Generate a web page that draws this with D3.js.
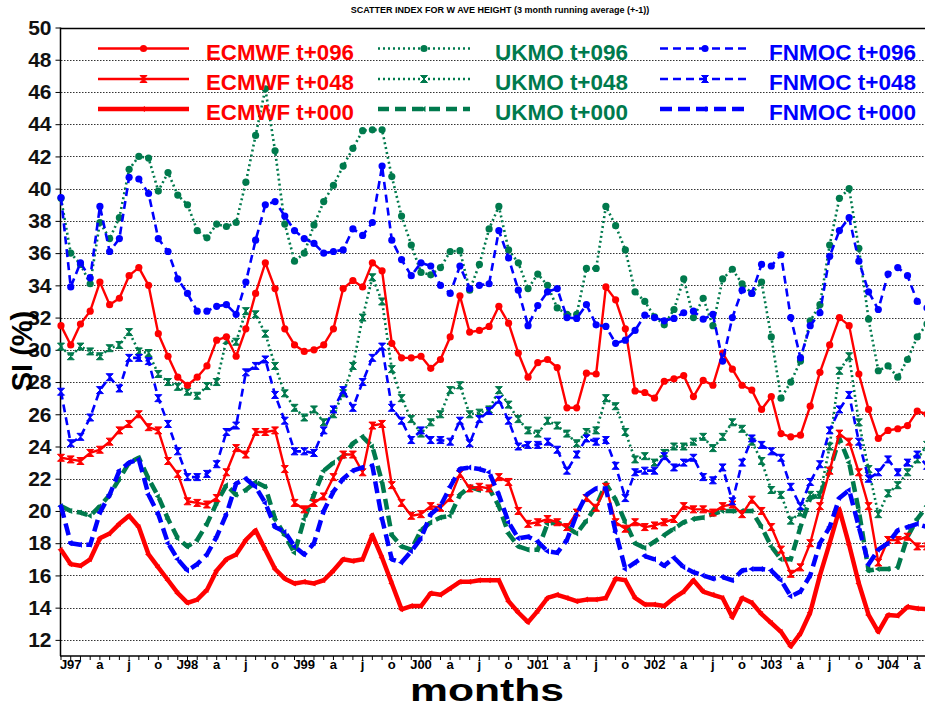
<!DOCTYPE html>
<html>
<head>
<meta charset="utf-8">
<script src="https://cdn.jsdelivr.net/npm/d3@7"></script>
<style>
    body { margin: 0; background: #fff; }
    svg { display: block; font-family: "Liberation Sans", Arial, sans-serif; }
</style>
</head>
<body>
<div id="chart"></div>
<script>
// set global variables
const width = 925;
const height = 708;
const plotLeft = 61;
const plotTop = 27.5;
const plotBottom = 656;
const monthStep = 9.73;

// month tick labels (one every 3 months, starting Jan 97)
const monthLabels = ["J97", "a", "j", "o", "J98", "a", "j", "o", "J99", "a", "j", "o",
    "J00", "a", "j", "o", "J01", "a", "j", "o", "J02", "a", "j", "o",
    "J03", "a", "j", "o", "J04", "a"];
const yTicks = [12, 14, 16, 18, 20, 22, 24, 26, 28, 30, 32, 34, 36, 38, 40, 42, 44, 46, 48, 50];

// monthly values, Dec 96 .. May 04
const ecmwf096 = [31.5, 30.3, 31.6, 32.4, 34.2, 32.8, 33.2, 34.6, 35.1, 34.0,
    31.0, 29.6, 28.3, 27.8, 28.3, 29.0, 30.6, 30.8, 29.6, 31.3,
    33.5, 35.4, 33.8, 31.3, 30.3, 29.9, 30.0, 30.3, 31.3, 33.8,
    34.3, 33.9, 35.4, 34.9, 30.4, 29.5, 29.5, 29.6, 28.85, 29.4,
    30.8, 33.35, 31.1, 31.2, 31.45, 32.7, 31.65, 29.8, 28.3, 29.2,
    29.4, 28.9, 26.4, 26.4, 28.55, 28.5, 33.9, 33.1, 31.3, 27.45,
    27.35, 27.0, 28.05, 28.2, 28.4, 27.1, 28.1, 27.8, 29.8, 28.8,
    27.8, 27.5, 26.3, 27.1, 24.8, 24.6, 24.7, 26.5, 28.6, 30.3,
    32.0, 31.5, 28.5, 26.3, 24.5, 25.0, 25.1, 25.3, 26.2, 26.0];
const ecmwf048 = [23.3, 23.2, 23.1, 23.6, 23.8, 24.3, 25.0, 25.4, 26.0, 25.2,
    25.0, 23.1, 22.3, 20.6, 20.5, 20.4, 20.8, 22.4, 23.9, 23.5,
    24.9, 24.9, 25.0, 22.6, 20.5, 20.1, 20.5, 20.9, 22.1, 23.5,
    23.5, 22.4, 25.3, 25.4, 21.6, 20.5, 19.7, 19.8, 20.3, 20.2,
    20.8, 22.3, 21.4, 21.5, 21.4, 22.1, 21.8, 20.0, 19.2, 19.3,
    19.5, 19.3, 19.0, 19.9, 20.8, 20.2, 21.5, 19.3, 18.9, 19.3,
    19.0, 19.1, 19.3, 19.5, 20.3, 20.1, 20.1, 19.9, 20.3, 20.4,
    19.8, 20.7, 20.0, 19.0, 17.6, 16.1, 16.5, 18.0, 20.3, 22.5,
    24.8, 24.3, 22.4, 20.3, 16.8, 18.2, 18.2, 18.4, 17.8, 17.8];
const ecmwf000 = [17.6, 16.7, 16.6, 17.0, 18.3, 18.6, 19.2, 19.7, 19.0, 17.3,
    16.5, 15.7, 14.9, 14.3, 14.5, 15.1, 16.3, 17.0, 17.3, 18.2,
    18.8, 17.6, 16.4, 15.8, 15.5, 15.6, 15.5, 15.7, 16.3, 17.0,
    16.9, 17.0, 18.5, 17.1, 15.5, 13.9, 14.1, 14.1, 14.9, 14.8,
    15.2, 15.6, 15.6, 15.7, 15.7, 15.7, 14.4, 13.7, 13.1, 13.8,
    14.6, 14.8, 14.6, 14.4, 14.5, 14.5, 14.6, 15.8, 15.7, 14.6,
    14.2, 14.2, 14.1, 14.6, 15.0, 15.7, 15.0, 14.8, 14.6, 13.4,
    14.6, 14.3, 13.6, 13.05, 12.5, 11.6, 12.4, 13.7, 16.0, 18.0,
    20.1, 17.9, 15.5, 13.55, 12.5, 13.55, 13.5, 14.05, 13.95, 13.9];
const ukmo096 = [39.4, 36.0, 35.3, 34.1, 37.9, 36.9, 38.2, 41.2, 42.0, 41.9,
    39.85, 41.0, 39.6, 39.0, 37.4, 36.95, 37.8, 37.65, 37.9, 40.4,
    43.3, 46.2, 42.35, 37.8, 35.5, 36.0, 37.75, 39.2, 40.2, 41.4,
    42.5, 43.6, 43.65, 43.65, 40.75, 38.3, 36.5, 34.8, 34.65, 35.1,
    36.1, 36.15, 33.7, 35.3, 37.5, 38.9, 36.2, 35.4, 33.8, 34.7,
    34.0, 32.6, 32.2, 32.2, 35.05, 35.05, 38.9, 37.7, 36.2, 33.6,
    33.0, 32.05, 31.55, 32.5, 34.4, 32.0, 33.2, 31.5, 34.4, 35.0,
    34.1, 33.5, 34.2, 30.8, 27.0, 28.0, 29.3, 31.8, 32.8, 36.5,
    39.4, 40.0, 36.3, 31.9, 28.7, 29.0, 28.3, 29.4, 30.8, 31.6];
const ukmo048 = [30.2, 29.6, 30.2, 29.9, 29.6, 30.1, 30.3, 31.1, 29.9, 29.8,
    28.5, 28.0, 27.7, 27.4, 27.15, 27.75, 28.0, 30.6, 30.5, 32.4,
    32.2, 31.0, 29.0, 27.3, 26.4, 25.8, 26.3, 25.5, 26.0, 27.3,
    29.0, 32.0, 34.5, 33.0, 28.8, 27.0, 25.7, 24.8, 25.5, 26.0,
    27.5, 27.8, 26.0, 26.1, 26.3, 27.5, 26.6, 25.7, 25.0, 24.8,
    25.6, 25.3, 24.8, 24.2, 24.9, 25.0, 27.0, 26.5, 24.9, 23.2,
    23.4, 23.0, 23.6, 24.0, 24.0, 24.3, 24.6, 23.9, 24.6, 25.5,
    25.1, 24.3, 23.1, 21.3, 21.0, 19.4, 19.9, 21.0, 21.0, 24.0,
    28.7, 29.6, 25.5, 22.6, 19.8, 21.1, 21.6, 22.4, 23.2, 24.1];
const ukmo000 = [20.3, 20.0, 19.9, 19.7, 20.3, 21.0, 22.0, 23.0, 23.3, 22.0,
    20.9, 19.5, 18.3, 17.8, 18.2, 19.2, 20.5, 21.6, 21.0, 21.3,
    21.8, 21.5, 19.5, 18.5, 17.4, 19.5, 21.0, 22.5, 23.0, 23.4,
    24.2, 24.6, 24.0, 21.8, 18.5, 17.8, 17.6, 18.8, 19.3, 19.6,
    19.7, 21.0, 21.5, 21.3, 21.4, 20.3, 18.6, 17.8, 17.6, 17.6,
    19.2, 19.3, 19.0, 18.6, 19.4, 20.3, 21.7, 20.7, 19.3, 18.0,
    17.7, 18.1, 18.5, 18.9, 19.3, 19.5, 19.6, 19.8, 20.0, 20.0,
    20.0, 20.0, 19.0, 17.8, 17.0, 17.0, 19.0, 20.8, 21.0, 22.5,
    24.5, 23.0, 20.0, 16.3, 16.4, 16.4, 16.5, 18.4, 19.5, 20.3];
const fnmoc096 = [39.45, 33.9, 35.4, 34.45, 38.9, 36.1, 36.9, 40.7, 40.6, 39.7,
    36.9, 36.1, 34.4, 33.5, 32.4, 32.4, 32.7, 32.8, 32.2, 34.2,
    36.8, 39.0, 39.2, 38.3, 37.4, 36.9, 36.6, 36.0, 36.1, 36.2,
    37.5, 37.1, 37.9, 41.4, 36.8, 35.6, 34.6, 35.4, 35.2, 34.0,
    33.5, 35.2, 33.8, 34.0, 34.1, 37.4, 35.7, 33.7, 31.5, 32.75,
    33.6, 33.8, 32.0, 31.95, 32.8, 31.55, 31.45, 30.4, 30.6, 31.2,
    32.15, 32.0, 31.8, 31.95, 32.3, 32.4, 31.9, 32.2, 29.3, 32.0,
    33.7, 33.5, 35.3, 35.2, 35.9, 32.0, 29.5, 31.5, 32.3, 35.8,
    37.4, 38.2, 35.5, 33.6, 32.5, 34.7, 35.1, 34.6, 33.0, 32.6];
const fnmoc048 = [27.4, 24.2, 24.6, 25.8, 27.5, 28.3, 27.6, 29.5, 29.5, 29.3,
    27.0, 25.4, 23.7, 22.1, 22.1, 22.3, 22.9, 24.9, 25.3, 28.6,
    29.0, 29.4, 27.2, 25.6, 23.7, 23.7, 23.6, 25.0, 26.3, 27.5,
    26.4, 28.0, 29.5, 30.2, 26.4, 25.6, 24.4, 25.0, 24.4, 24.4,
    24.3, 25.6, 24.2, 25.7, 26.2, 26.9, 25.6, 24.0, 24.1, 24.1,
    24.3, 23.8, 22.5, 23.5, 24.5, 24.3, 24.4, 22.8, 20.8, 22.4,
    22.5, 22.5, 23.4, 22.7, 23.0, 23.3, 22.1, 21.9, 22.7, 20.6,
    23.0, 24.5, 24.1, 23.7, 23.3, 21.5, 20.3, 21.8, 22.9, 25.0,
    26.3, 27.2, 24.3, 22.0, 22.4, 23.2, 22.4, 23.0, 23.5, 22.8];
const fnmoc000 = [20.3, 18.0, 17.9, 17.9, 19.9, 21.0, 22.5, 23.0, 23.2, 21.0,
    19.8, 18.0, 17.0, 16.3, 16.7, 17.3, 18.4, 19.8, 21.7, 22.0,
    21.5, 20.5, 19.0, 18.7, 17.8, 17.3, 18.0, 20.0, 21.2, 22.0,
    22.5, 22.7, 22.8, 19.5, 17.0, 16.8, 17.5, 18.3, 19.8, 20.3,
    21.5, 22.6, 22.7, 22.6, 22.4, 21.0, 19.3, 18.3, 18.4, 18.1,
    17.5, 17.4, 18.2, 19.8, 21.0, 21.4, 21.4, 18.7, 16.4, 16.8,
    17.2, 17.0, 16.6, 17.1, 16.5, 16.2, 16.0, 15.8, 15.9, 15.7,
    16.3, 16.4, 16.4, 16.3, 15.7, 14.7, 15.0, 16.0, 18.0, 19.0,
    20.8, 21.3, 19.0, 16.7, 17.6, 18.0, 18.8, 19.0, 19.2, 19.0];

const red = "#ff0000";
const green = "#007a4d";
const blue = "#0000ff";

// series table (draw order: green, red, blue)
const series = [
    { name: "UKMO t+096", values: ukmo096, color: green, w: 2.6, dash: "2,3", marker: "circle", col: 1, row: 0 },
    { name: "UKMO t+048", values: ukmo048, color: green, w: 2.6, dash: "2,3", marker: "hour", col: 1, row: 1 },
    { name: "UKMO t+000", values: ukmo000, color: green, w: 4.5, dash: "11,6", marker: "arrow", col: 1, row: 2 },
    { name: "ECMWF t+096", values: ecmwf096, color: red, w: 2.4, dash: null, marker: "circle", col: 0, row: 0 },
    { name: "ECMWF t+048", values: ecmwf048, color: red, w: 2.4, dash: null, marker: "hour", col: 0, row: 1 },
    { name: "ECMWF t+000", values: ecmwf000, color: red, w: 4.5, dash: null, marker: "arrow", col: 0, row: 2 },
    { name: "FNMOC t+096", values: fnmoc096, color: blue, w: 2.6, dash: "8,5", marker: "circle", col: 2, row: 0 },
    { name: "FNMOC t+048", values: fnmoc048, color: blue, w: 2.6, dash: "8,5", marker: "hour", col: 2, row: 1 },
    { name: "FNMOC t+000", values: fnmoc000, color: blue, w: 4.5, dash: "12,6", marker: "arrow", col: 2, row: 2 }
];

// first make svg
var svg = d3.select("#chart")
    .append("svg")
    .attr("width", width)
    .attr("height", height);

// create scales
var xScale = d3.scaleLinear()
    .domain([0, 89])
    .range([plotLeft, plotLeft + 89 * monthStep]);

var yScale = d3.scaleLinear()
    .domain([11, 50])
    .range([plotBottom, plotTop]);

// title
svg.append("text")
    .attr("x", 500)
    .attr("y", 13)
    .attr("text-anchor", "middle")
    .style("font-size", "9px")
    .style("font-weight", "bold")
    .text("SCATTER INDEX  FOR W AVE HEIGHT (3 month running average (+-1))");

/////////////////////////
// grid and axes       //
/////////////////////////

svg.append("g")
    .selectAll("line")
    .data(yTicks.filter(d => d < 50))
    .enter()
    .append("line")
    .attr("x1", plotLeft)
    .attr("x2", width)
    .attr("y1", d => Math.round(yScale(d)) + 0.5)
    .attr("y2", d => Math.round(yScale(d)) + 0.5)
    .attr("stroke", "#333")
    .attr("stroke-width", 1)
    .attr("stroke-dasharray", "1.5,1.5");

// top frame line
svg.append("line")
    .attr("x1", plotLeft).attr("x2", width)
    .attr("y1", Math.round(yScale(50)) + 0.5).attr("y2", Math.round(yScale(50)) + 0.5)
    .attr("stroke", "#000").attr("stroke-width", 1.5);

var yAxis = d3.axisLeft(yScale)
    .tickValues(yTicks)
    .tickSize(5)
    .tickPadding(4);

var yG = svg.append("g")
    .attr("transform", "translate(" + (plotLeft - 0.5) + ",0)")
    .call(yAxis);
yG.select(".domain").attr("d", "M0," + plotTop + "V" + plotBottom).attr("stroke-width", 1.5);
yG.selectAll("text")
    .style("font-size", "21px")
    .style("font-weight", "bold")
    .attr("fill", "#111");

// x axis: monthly minor ticks, labels every quarter
var xG = svg.append("g");
xG.append("line")
    .attr("x1", plotLeft - 1).attr("x2", width)
    .attr("y1", plotBottom).attr("y2", plotBottom)
    .attr("stroke", "#000").attr("stroke-width", 1.5);

xG.selectAll(".mtick")
    .data(d3.range(0, 90))
    .enter()
    .append("line")
    .attr("class", "mtick")
    .attr("x1", d => xScale(d)).attr("x2", d => xScale(d))
    .attr("y1", plotBottom).attr("y2", plotBottom + 4)
    .attr("stroke", "#000").attr("stroke-width", 1);

xG.selectAll(".mlabel")
    .data(monthLabels)
    .enter()
    .append("text")
    .attr("class", "mlabel")
    .attr("x", (d, i) => xScale(1 + i * 3))
    .attr("y", 669)
    .attr("text-anchor", "middle")
    .style("font-size", "13px")
    .style("font-weight", "bold")
    .text(d => d);

// axis titles
svg.append("text")
    .attr("x", 410)
    .attr("y", 701)
    .attr("textLength", 154)
    .attr("lengthAdjust", "spacingAndGlyphs")
    .style("font-size", "32px")
    .style("font-weight", "bold")
    .text("months");

svg.append("text")
    .attr("transform", "translate(32,351) rotate(-90)")
    .attr("text-anchor", "middle")
    .style("font-size", "29px")
    .style("font-weight", "bold")
    .text("SI (%)");

////////////////////////////
// markers                //
////////////////////////////

function drawMarker(g, type, x, y, color) {
    if (type === "circle") {
        g.append("circle").attr("cx", x).attr("cy", y).attr("r", 3.6).attr("fill", color);
    } else if (type === "hour") {
        g.append("path")
            .attr("d", "M" + (x - 3.5) + "," + (y - 3.5) + "h7l-7,7h7z")
            .attr("fill", color).attr("stroke", color).attr("stroke-width", 1);
    } else {
        g.append("path")
            .attr("d", "M" + (x - 3.5) + "," + y + "l5,-3v6z")
            .attr("fill", color);
    }
}

////////////////////////////
// lines                  //
////////////////////////////

var plot = svg.append("g");

var line = d3.line()
    .x((d, i) => xScale(i))
    .y(d => yScale(d));

series.forEach(s => {
    var g = plot.append("g");
    g.append("path")
        .datum(s.values)
        .attr("fill", "none")
        .attr("stroke", s.color)
        .attr("stroke-width", s.w)
        .attr("stroke-dasharray", s.dash)
        .attr("stroke-linejoin", "round")
        .attr("d", line);
    s.values.forEach((v, i) => {
        drawMarker(g, s.marker, xScale(i), yScale(v), s.color);
    });
});

////////////////////////////
// legend                 //
////////////////////////////

const legendCols = [
    { x1: 98, x2: 189, tx: 206, tl: 148 },
    { x1: 378, x2: 470, tx: 495, tl: 133 },
    { x1: 660, x2: 750, tx: 769, tl: 147 }
];
const legendRows = [48.5, 79, 109];

var legend = svg.append("g");
series.forEach(s => {
    var c = legendCols[s.col];
    var y = legendRows[s.row];
    legend.append("line")
        .attr("x1", c.x1).attr("x2", c.x2)
        .attr("y1", y).attr("y2", y)
        .attr("stroke", s.color)
        .attr("stroke-width", s.w)
        .attr("stroke-dasharray", s.dash);
    drawMarker(legend, s.marker, (c.x1 + c.x2) / 2, y, s.color);
    legend.append("text")
        .attr("x", c.tx)
        .attr("y", y + 11)
        .attr("textLength", c.tl)
        .attr("lengthAdjust", "spacingAndGlyphs")
        .attr("fill", s.color)
        .style("font-size", "22px")
        .style("font-weight", "bold")
        .text(s.name);
});
</script>
</body>
</html>
